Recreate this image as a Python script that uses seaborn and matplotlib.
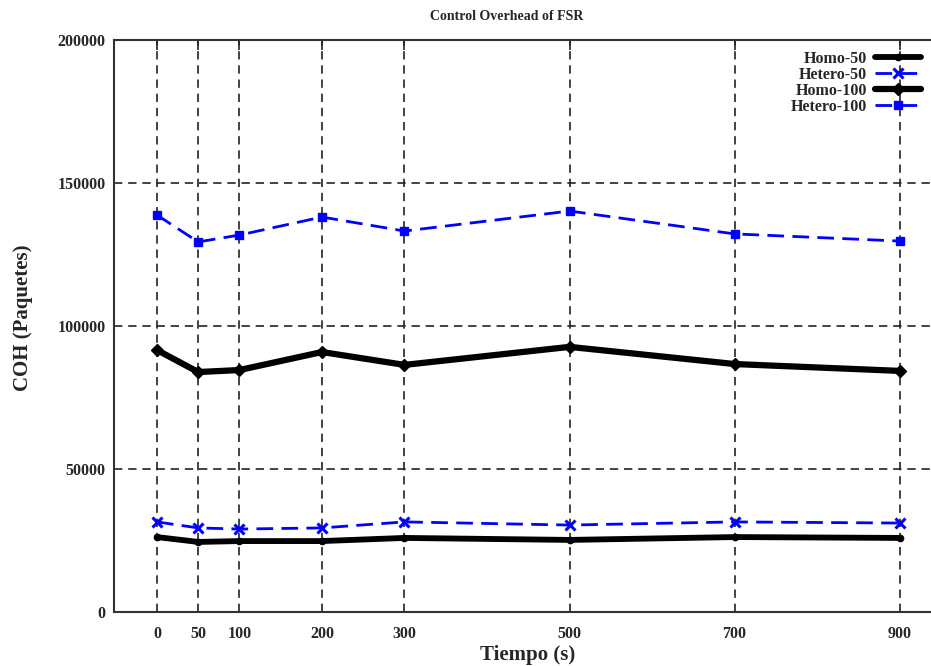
import numpy as np
import pandas as pd
import matplotlib
matplotlib.use("Agg")
import matplotlib.pyplot as plt
import seaborn as sns

# ---- data ----
tiempo = [0, 50, 100, 200, 300, 500, 700, 900]
homo_50 = [26200, 24500, 24800, 24800, 25900, 25200, 26200, 25900]
hetero_50 = [31500, 29400, 29000, 29400, 31500, 30400, 31500, 31100]
homo_100 = [91600, 83900, 84600, 90900, 86400, 92700, 86700, 84300]
hetero_100 = [138800, 129400, 131800, 138100, 133200, 140200, 132200, 129700]
series_names = ["Homo-50", "Hetero-50", "Homo-100", "Hetero-100"]
x_ticks = [0, 50, 100, 200, 300, 500, 700, 900]
y_ticks = [0, 50000, 100000, 150000, 200000]

sns.set_style("white")
plt.rcParams['font.family'] = ['Liberation Serif', 'DejaVu Serif']
plt.rcParams['font.weight'] = 'bold'

df = pd.DataFrame({
    "Tiempo": tiempo * 4,
    "COH": homo_50 + hetero_50 + homo_100 + hetero_100,
    "Serie": sum([[n] * len(tiempo) for n in series_names], []),
})

W, H = 931, 666
fig = plt.figure(figsize=(W / 100, H / 100), dpi=100)
ax = fig.add_axes([114 / W, 1 - 612 / H, (W - 114) / W, (612 - 40) / H])

styles = {
    "Homo-50": dict(color="black", lw=4.2, marker="o", ms=4.5, mew=1, dashes=None),
    "Hetero-50": dict(color="#0000ff", lw=2.0, marker="x", ms=6.5, mew=2.2, dashes=(6, 3)),
    "Homo-100": dict(color="black", lw=4.5, marker="D", ms=6, mew=1, dashes=None),
    "Hetero-100": dict(color="#0000ff", lw=2.0, marker="s", ms=5.5, mew=1, dashes=(6, 3)),
}

for name in series_names:
    st = styles[name]
    sub = df[df["Serie"] == name]
    sns.lineplot(data=sub, x="Tiempo", y="COH", ax=ax, color=st["color"],
                 linewidth=st["lw"], marker=st["marker"], markersize=st["ms"],
                 markeredgewidth=st["mew"], markeredgecolor=st["color"],
                 label=name, zorder=5)
    line = ax.lines[-1]
    if st["dashes"] is not None:
        line.set_dashes(st["dashes"])

ax.set_xlim(-52, 938)
ax.set_ylim(0, 200000)
ax.set_xticks(x_ticks)
ax.set_yticks(y_ticks)
ax.set_xticklabels([str(v) for v in x_ticks], fontsize=11.5, fontweight="bold")
ax.set_yticklabels([str(v) for v in y_ticks], fontsize=11.5, fontweight="bold")
ax.tick_params(axis="both", direction="in", length=7, width=1.2, color="#222222",
               top=True, right=False)
ax.tick_params(axis="x", pad=10)
ax.tick_params(axis="y", pad=6)

ax.grid(True, color="#222222", linestyle=(0, (5, 3.5)), linewidth=1.2, zorder=1)
ax.set_axisbelow(True)
for side in ["left", "top", "bottom"]:
    ax.spines[side].set_visible(True)
    ax.spines[side].set_color("#333333")
    ax.spines[side].set_linewidth(1.5)
ax.spines["right"].set_visible(False)

ax.set_xlabel("Tiempo (s)", fontsize=15, fontweight="bold")
ax.set_ylabel("COH (Paquetes)", fontsize=15, fontweight="bold")
ax_w = W - 114
ax_h = 612 - 40
ax.xaxis.set_label_coords((528 - 114) / ax_w, -(655 - 612) / ax_h)
ax.xaxis.label.set_va("center")
ax.yaxis.set_label_coords(-(114 - 23) / ax_w, (612 - 318) / ax_h)
ax.yaxis.label.set_va("center")

fig.text(507 / W, 1 - 16 / H, "Control Overhead of FSR", ha="center", va="center",
         fontsize=10, fontweight="bold")

if ax.legend_:
    ax.legend_.remove()
handles, labels = ax.get_legend_handles_labels()
leg = fig.legend(handles, labels, loc="upper right",
                 bbox_to_anchor=(921 / W, 1 - 51 / H), frameon=False,
                 markerfirst=False, handlelength=2.9, handletextpad=0.5,
                 labelspacing=0.0, borderpad=0, borderaxespad=0,
                 prop={"family": "Liberation Serif", "weight": "bold", "size": 11.5})

fig.savefig("out.png", dpi=100)
